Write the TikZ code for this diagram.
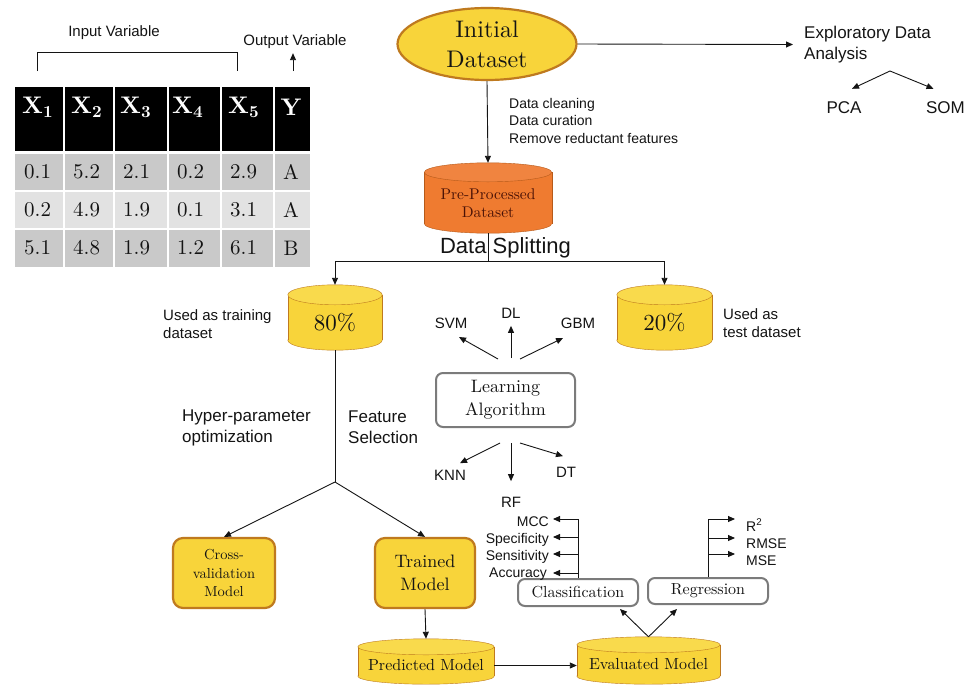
\documentclass[tikz,border=0pt]{standalone}
\usepackage{fontspec}
\setmainfont{lmroman10-regular}[Extension=.otf, BoldFont=lmroman10-bold,
  ItalicFont=lmroman10-italic]
\setsansfont{Liberation Sans}
\usetikzlibrary{arrows.meta,calc,backgrounds,shapes.geometric}

\definecolor{ink}{HTML}{141414}
\definecolor{yfill}{HTML}{F8D43A}
\definecolor{ytop}{HTML}{F9DA4C}
\definecolor{ybord}{HTML}{BF7A1F}
\definecolor{ofill}{HTML}{EF7B30}
\definecolor{otop}{HTML}{F08440}
\definecolor{obord}{HTML}{B65A1A}
\definecolor{otext}{HTML}{4A1206}
\definecolor{gbord}{HTML}{7B7B7B}
\definecolor{rowdark}{HTML}{C9C9C9}
\definecolor{rowlight}{HTML}{E2E2E2}

% Drum (database) outline behind a body node: #1 node, #2 cap half-height,
% #3 body fill, #4 cap fill, #5 outline colour
\newcommand\drum[5]{%
  \coordinate (#1-top) at ($(#1.north)+(0,-#2)$);
  \begin{scope}[on background layer, line width=2.2pt]
    \path[fill=#3, draw=#5] let \p1=($(#1.east)-(#1.west)$) in
      ($(#1.south)+(0,-#2)$) ellipse [x radius=0.5*\x1, y radius=#2pt];
    \fill[#3] (#1.north west) rectangle ($(#1.south east)+(0,-#2)$);
    \draw[#5] (#1.north west) -- ($(#1.south west)+(0,-#2)$)
              (#1.north east) -- ($(#1.south east)+(0,-#2)$);
    \path[fill=#4, draw=#5] let \p1=($(#1.east)-(#1.west)$) in
      (#1.north) ellipse [x radius=0.5*\x1, y radius=#2pt];
  \end{scope}}

\tikzset{
  conn/.style={draw=ink, line width=0.9pt},
  arr/.style={conn, -{Triangle[length=7pt,width=6pt]}},
  txt/.style={inner sep=0pt, text=ink, align=left},
  sf14/.style={txt, font=\sffamily\fontsize{14}{17.5}\selectfont},
  sf15/.style={txt, font=\sffamily\fontsize{15}{18}\selectfont},
  sf17/.style={txt, font=\sffamily\fontsize{17}{21}\selectfont},
  drumbody/.style={rectangle, inner sep=0pt, align=center, text=ink},
  ybox/.style={rectangle, rounded corners=10pt, fill=yfill, draw=ybord,
    line width=2.2pt, inner sep=0pt, align=center, text=ink},
  gbox/.style={rectangle, rounded corners=7pt, fill=white, draw=gbord,
    line width=2pt, inner sep=0pt, align=center, text=ink},
  hdr/.style={inner sep=0pt, text=white, font=\fontsize{24}{24}\selectfont},
  cell/.style={inner sep=0pt, text=ink, font=\fontsize{21}{21}\selectfont},
}

\begin{document}
\begin{tikzpicture}[x=1pt,y=-1pt]
\useasboundingbox (0,0) rectangle (967,686);
\begin{scope}[on background layer]
  \fill[white] (0,0) rectangle (967,686);
\end{scope}

% ---------- data table ----------
\foreach \l/\r in {15/63,65/113,115/167,169/220,222/273,275/310} {
  \fill[black]    (\l,87)  rectangle (\r,151);
  \fill[rowdark]  (\l,154) rectangle (\r,190);
  \fill[rowlight] (\l,192) rectangle (\r,228);
  \fill[rowdark]  (\l,230) rectangle (\r,267);
}
\foreach \x/\t [count=\i] in {22/1,71/2,120/3,172/4,228/5}
  \node[hdr, anchor=west] (h\i) at (\x,107) {$\mathbf{X}_{\mathbf{\t}}$};
\node[hdr] (h6) at (291,107) {\textbf{Y}};
\foreach \y/\a/\b/\c/\d/\e/\f [count=\r] in
  {172/0.1/5.2/2.1/0.2/2.9/A, 210/0.2/4.9/1.9/0.1/3.1/A, 248/5.1/4.8/1.9/1.2/6.1/B} {
  \node[cell, anchor=west] (d\r a) at (24,\y)  {\a};
  \node[cell, anchor=west] (d\r b) at (73,\y)  {\b};
  \node[cell, anchor=west] (d\r c) at (123,\y) {\c};
  \node[cell, anchor=west] (d\r d) at (177,\y) {\d};
  \node[cell, anchor=west] (d\r e) at (230,\y) {\e};
  \node[cell] (d\r f) at (291,\y) {\f};
}

% bracket over the input columns, arrow to the output column
\node[sf15] (inp) at (114,33) {Input Variable};
\coordinate (brL) at (37,71);
\coordinate (brR) at (237,71);
\draw[conn] (brL) -- ++(0,-19) -| (brR);
\node[sf15] (outv) at (295,42) {Output Variable};
\coordinate (outA) at (293,71);
\draw[arr] (outA) -- ($(outv.south)+(-2,4)$);

% ---------- initial dataset and EDA ----------
\node[ellipse, minimum width=179pt, minimum height=72pt, inner sep=0pt,
  fill=yfill, draw=ybord, line width=2.2pt, align=center, text=ink,
  font=\fontsize{24}{30}\selectfont] (init) at (487,44) {Initial\\Dataset};

\node[sf17, anchor=west] (eda) at (804,44.5) {Exploratory Data\\Analysis};
\draw[arr] (init.east) -- ($(eda.west)+(-11,0)$);
\coordinate (edasplit) at (890,71);
\node[sf17] (pca) at (844,108) {PCA};
\node[sf17] (som) at (945.5,108) {SOM};
\draw[arr] (edasplit) -- ($(pca.north)+(8,-13)$);
\draw[arr] (edasplit) -- ($(som.north)+(-12,-13)$);

% ---------- pre-processing ----------
\node[drumbody, minimum width=127pt, minimum height=60.5pt, text=otext,
  font=\fontsize{15.5}{18}\selectfont] (pre) at (488,202.75) {Pre-Processed\\Dataset};
\drum{pre}{9.5}{ofill}{otop}{obord}
\draw[arr] (init.south) -- (pre-top);
\node[sf14, anchor=west] (clean) at (509,120.5)
  {Data cleaning\\Data curation\\Remove reductant features};

% ---------- data splitting ----------
\node[txt, font=\sffamily\fontsize{22}{22}\selectfont] (splittxt) at (505.5,248) {Data Splitting};
\node[drumbody, minimum width=94pt, minimum height=55pt,
  font=\fontsize{23}{23}\selectfont] (p80) at (335,322.5) {80\%};
\drum{p80}{10}{yfill}{ytop}{ybord}
\node[drumbody, minimum width=95pt, minimum height=55pt,
  font=\fontsize{23}{23}\selectfont] (p20) at (664.5,322.5) {20\%};
\drum{p20}{10}{yfill}{ytop}{ybord}
\coordinate (split) at (488,261);
\draw[conn] (pre.south) -- (split);
\draw[arr] (split) -| (p80-top);
\draw[arr] (split) -| (p20-top);
\node[sf15, anchor=west] (train) at (163,324) {Used as training\\dataset};
\node[sf15, anchor=west] (test) at (723,323) {Used as\\test dataset};

% ---------- learning algorithm ----------
\node[gbox, minimum width=139pt, minimum height=54pt,
  font=\fontsize{18}{23}\selectfont] (learn) at (505.5,400) {Learning\\Algorithm};
\node[sf15] (svm) at (451,323) {SVM};
\node[sf15] (dl)  at (511,313) {DL};
\node[sf15] (gbm) at (578,323) {GBM};
\node[sf15] (knn) at (450,475) {KNN};
\node[sf15] (rf)  at (511,502) {RF};
\node[sf15] (dt)  at (566,472) {DT};
\draw[arr] ($(learn.north)+(-7.5,-13)$) -- ($(svm.south)+(8,8.5)$);
\draw[arr] ($(learn.north)+(5.5,-14)$)  -- ($(dl.south)+(0,7.5)$);
\draw[arr] ($(learn.north)+(14.5,-13)$) -- ($(gbm.south)+(-15,9.5)$);
\draw[arr] ($(learn.south)+(-5.5,15)$)  -- ($(knn.north)+(10,-6.5)$);
\draw[arr] ($(learn.south)+(5.5,15)$)   -- ($(rf.north)+(0,-15.5)$);
\draw[arr] ($(learn.south)+(14.5,15)$)  -- ($(dt.north)+(-3,-10.5)$);

% ---------- model training ----------
\node[sf17, anchor=west] (hyper) at (182,427.5) {Hyper-parameter\\optimization};
\node[sf17, anchor=west] (feat) at (348,427.5) {Feature\\Selection};
\coordinate (hs) at (335,482);
\node[ybox, minimum width=102pt, minimum height=70pt,
  font=\fontsize{14.5}{18.5}\selectfont] (cross) at (224,573) {Cross-\\validation\\Model};
\node[ybox, minimum width=100pt, minimum height=70pt,
  font=\fontsize{18}{23}\selectfont] (trained) at (425,573) {Trained\\Model};
\draw[conn] (p80.south) -- (hs);
\draw[arr] (hs) -- (cross.north);
\draw[arr] (hs) -- (trained.north);

\node[drumbody, minimum width=136pt, minimum height=37pt,
  font=\fontsize{16}{16}\selectfont] (pred) at (426,665.5) {Predicted Model};
\drum{pred}{8}{yfill}{ytop}{ybord}
\node[drumbody, minimum width=143pt, minimum height=39pt,
  font=\fontsize{16}{16}\selectfont] (eval) at (648.5,664.5) {Evaluated Model};
\drum{eval}{8}{yfill}{ytop}{ybord}
\draw[arr] (trained.south) -- (pred-top);
\draw[arr] (pred.east) -- (pred.east -| eval.west);

% ---------- evaluation ----------
\node[gbox, minimum width=120pt, minimum height=27pt,
  font=\fontsize{16}{16}\selectfont] (class) at (578,592.5) {Classification};
\node[gbox, minimum width=120pt, minimum height=26pt,
  font=\fontsize{16}{16}\selectfont] (regr) at (708,591) {Regression};
\draw[arr] (eval-top) -- ($(class.south east)+(-19,2)$);
\draw[arr] (eval-top) -- ($(regr.south west)+(30,4)$);

\node[sf14, anchor=east] (mcc)  at (549,522) {MCC};
\node[sf14, anchor=east] (spec) at (549,540) {Specificity};
\node[sf14, anchor=east] (sens) at (549,557) {Sensitivity};
\node[sf14, anchor=east] (acc)  at (547,574) {Accuracy};
\coordinate (mccA)  at ($(mcc.east)+(4,-3)$);
\coordinate (specA) at ($(spec.east)+(4,-3)$);
\coordinate (sensA) at ($(sens.east)+(4,-3)$);
\coordinate (accA)  at ($(acc.east)+(6,-1)$);
\draw[conn] (class.north) -- (class.north |- mccA);
\foreach \m in {mccA,specA,sensA,accA}
  \draw[arr] (class.north |- \m) -- (\m);

\node[sf14, anchor=west] (r2)   at (746,525) {R\textsuperscript{2}};
\node[sf14, anchor=west] (rmse) at (746,544) {RMSE};
\node[sf14, anchor=west] (mse)  at (746,561) {MSE};
\coordinate (r2A)   at ($(r2.west)+(-11,-6)$);
\coordinate (rmseA) at ($(rmse.west)+(-11,-6)$);
\coordinate (mseA)  at ($(mse.west)+(-11,-7)$);
\draw[conn] (regr.north) -- (regr.north |- r2A);
\foreach \m in {r2A,rmseA,mseA}
  \draw[arr] (regr.north |- \m) -- (\m);
\end{tikzpicture}
\end{document}
